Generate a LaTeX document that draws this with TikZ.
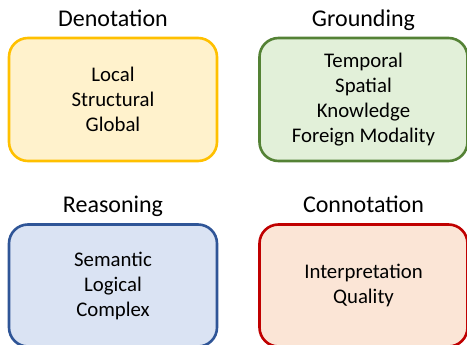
\documentclass[tikz,border=0pt]{standalone}
\usepackage{fontspec}
\setmainfont{Carlito}
\usepackage{tikz}
\usetikzlibrary{positioning}
\usepackage{xcolor}
\definecolor{denoLine}{HTML}{FFC000}
\definecolor{denoFill}{HTML}{FFF2CC}
\definecolor{groundLine}{HTML}{548235}
\definecolor{groundFill}{HTML}{E2F0D9}
\definecolor{reasonLine}{HTML}{2F5597}
\definecolor{reasonFill}{HTML}{DAE3F3}
\definecolor{connoLine}{HTML}{C00000}
\definecolor{connoFill}{HTML}{FBE5D6}

\begin{document}
\begin{tikzpicture}[x=1pt, y=-1pt,
    catbox/.style={rounded corners=19pt, line width=2.6pt, align=center,
                   minimum width=208pt, inner sep=0pt,
                   font=\fontsize{20.8}{25}\selectfont},
    cattitle/.style={inner sep=0pt, text depth=0pt,
                     font=\fontsize{24}{28}\selectfont}]
  \useasboundingbox (0,0) rectangle (467,345);

  % four categories
  \node[catbox, draw=denoLine, fill=denoFill, minimum height=123pt]
    (deno) at (113,99.5) {Local\\Structural\\Global};
  \node[catbox, draw=groundLine, fill=groundFill, minimum height=123pt]
    (ground) at (363.5,99.5) {Temporal\\Spatial\\Knowledge\\Foreign Modality};
  \node[catbox, draw=reasonLine, fill=reasonFill, minimum height=122pt]
    (reason) at (113,285.5) {Semantic\\Logical\\Complex};
  \node[catbox, draw=connoLine, fill=connoFill, minimum height=122pt]
    (conno) at (363.5,285.5) {Interpretation\\Quality};

  % titles
  \node[cattitle, above=9.5pt of deno]   (denoT)   {Denotation};
  \node[cattitle, above=9.5pt of ground] (groundT) {Grounding};
  \node[cattitle, above=10pt of reason]  (reasonT) {Reasoning};
  \node[cattitle, above=10pt of conno]   (connoT)  {Connotation};
\end{tikzpicture}
\end{document}
